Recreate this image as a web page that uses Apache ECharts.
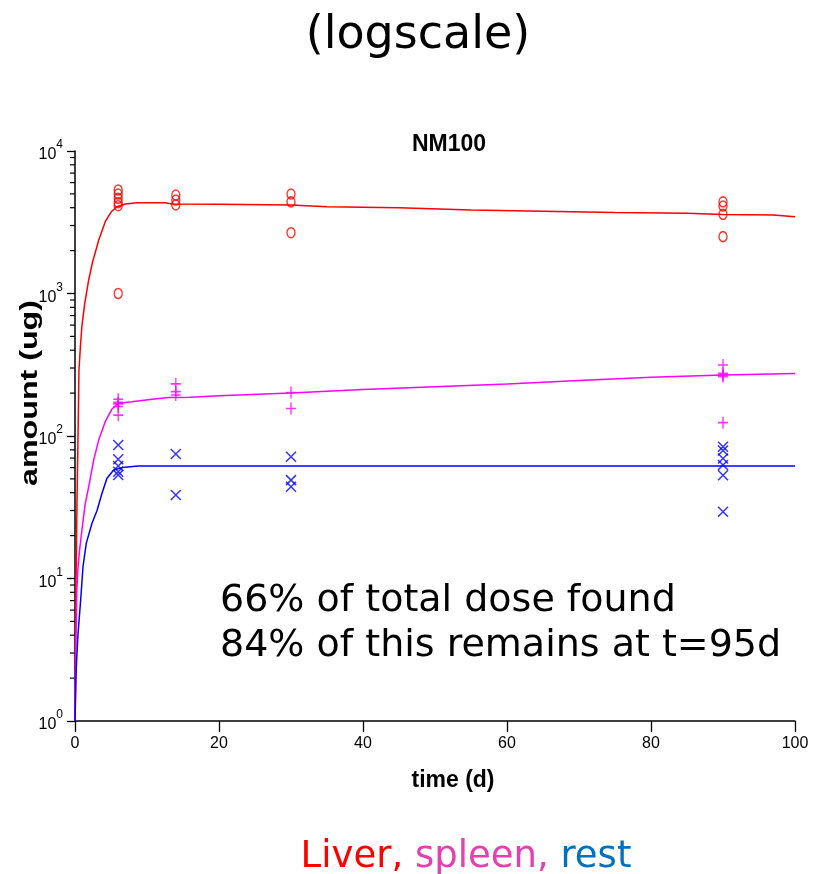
<!DOCTYPE html>
<html>
<head>
<meta charset="utf-8">
<script src="https://cdn.jsdelivr.net/npm/echarts@6.0.0/dist/echarts.min.js"></script>
<style>
  html, body { margin: 0; padding: 0; background: #fff; }
  #chart { width: 823px; height: 874px; }
</style>
</head>
<body>
<div id="chart"></div>
<script>
// 测量值 [时间(d), 量(ug)]
const liverObs = [[6, 5325], [6, 4990], [6, 4655], [6, 4340], [6, 4130], [6, 1000], [14, 4910], [14, 4530], [14, 4180], [30, 4990], [30, 4400], [30, 2670], [90, 4400], [90, 4110], [90, 3595], [90, 2505]];
const spleenObs = [[6, 181], [6, 172], [6, 168], [6, 161], [6, 140], [14, 232], [14, 205], [14, 194], [30, 202], [30, 156], [90, 315], [90, 275], [90, 268], [90, 261], [90, 124]];
const restObs = [[6, 86.5], [6, 68.6], [6, 61.5], [6, 56.2], [6, 53.2], [14, 74.8], [14, 38.5], [30, 71.6], [30, 49], [30, 44], [90, 84], [90, 79], [90, 69.5], [90, 62.6], [90, 53], [90, 29.4]];

// 拟合曲线
const liverFit = [[0, 1], [0.06, 3], [0.15, 10], [0.28, 35], [0.42, 100], [0.55, 290], [0.75, 424], [0.95, 585], [1.35, 850], [1.9, 1244], [2.45, 1670], [3.3, 2373], [4.2, 3190], [5.05, 3750], [5.8, 4065], [7, 4247], [8.6, 4337], [12.5, 4337], [13.5, 4250], [20, 4230], [30, 4180], [35, 4060], [45, 4000], [55, 3850], [65, 3780], [75, 3700], [85, 3655], [90, 3580], [97, 3556], [100, 3460]];
const spleenFit = [[0, 1], [0.1, 3], [0.25, 8], [0.42, 12], [0.65, 16], [0.97, 22], [1.4, 33], [1.9, 44], [2.6, 68], [3.3, 94], [4.2, 126], [5.1, 154], [6.1, 170], [7.9, 174], [10.7, 181], [13, 186], [16, 187], [20, 192], [30, 200], [40, 212], [50, 222], [60, 232], [70, 245], [80, 258], [90, 268], [100, 275]];
const restFit = [[0, 1], [0.18, 2.4], [0.42, 4.1], [0.79, 7.1], [1.11, 12.1], [1.57, 17.7], [2.36, 24.4], [3.06, 30], [3.75, 39.6], [4.44, 50.5], [5.37, 57.7], [6.53, 60], [8.8, 61.6], [100, 61.6]];

// 对数轴次刻度
const minorTicks = [];
[1, 10, 100, 1000].forEach(function (d) {
	for (let k = 2; k <= 9; k++) minorTicks.push(k * d);
});

const noteLines = ["66% of total dose found", "84% of this remains at t=95d"];

let myChart = echarts.init(document.getElementById("chart"));

const axisFont = "Liberation Sans";

const option = {
	animation: false,
	grid: {
		left: 75,
		right: 28,
		top: 151,
		bottom: 153,
	},
	xAxis: {
		type: "value",
		min: 0,
		max: 100,
		interval: 20,
		axisLine: { onZero: false, lineStyle: { color: "#000", width: 1.5 } },
		axisTick: { length: 11, lineStyle: { color: "#000", width: 1.3 } },
		axisLabel: { margin: 15, color: "#000", fontSize: 16, fontFamily: axisFont },
		splitLine: { show: false },
	},
	yAxis: {
		type: "log",
		logBase: 10,
		min: 1,
		max: 10000,
		axisLine: { show: true, onZero: false, lineStyle: { color: "#000", width: 1.5 } },
		axisTick: { show: true, length: 8, lineStyle: { color: "#000", width: 1.3 } },
		axisLabel: {
			margin: 12,
			showMinLabel: true,
			showMaxLabel: true,
			formatter: function (v) {
				return "{b|10}{s|" + Math.round(Math.log10(v)) + "}";
			},
			rich: {
				b: { fontSize: 16, fontFamily: axisFont, color: "#000", lineHeight: 24, verticalAlign: "bottom" },
				s: { fontSize: 12, fontFamily: axisFont, color: "#000", lineHeight: 24, verticalAlign: "top" },
			},
		},
		splitLine: { show: false },
	},
	graphic: [
		{
			type: "text",
			x: 418,
			y: 36,
			style: { text: "(logscale)", font: '46px "DejaVu Sans"', fill: "#000", align: "center", verticalAlign: "middle", textAlign: "center", textVerticalAlign: "middle" },
		},
		{
			type: "text",
			x: 449,
			y: 145,
			style: { text: "NM100", font: 'bold 23px "Liberation Sans"', fill: "#000", align: "center", verticalAlign: "middle", textAlign: "center", textVerticalAlign: "middle" },
		},
		{
			// 纵轴标题（原图中被纵向拉长）
			type: "text",
			x: 31,
			y: 393,
			rotation: Math.PI / 2,
			scaleX: 1.4,
			style: { text: "amount (ug)", font: 'bold 23px "Liberation Sans"', fill: "#000", align: "center", verticalAlign: "middle", textAlign: "center", textVerticalAlign: "middle" },
		},
		{
			type: "text",
			x: 453,
			y: 781,
			style: { text: "time (d)", font: 'bold 23px "Liberation Sans"', fill: "#000", align: "center", verticalAlign: "middle", textAlign: "center", textVerticalAlign: "middle" },
		},
		{
			type: "text",
			x: 220,
			y: 601,
			style: { text: noteLines[0], font: '38px "DejaVu Sans"', fill: "#000", align: "left", verticalAlign: "middle", textAlign: "left", textVerticalAlign: "middle" },
		},
		{
			type: "text",
			x: 220,
			y: 646,
			style: { text: noteLines[1], font: '38px "DejaVu Sans"', fill: "#000", align: "left", verticalAlign: "middle", textAlign: "left", textVerticalAlign: "middle" },
		},
		{
			type: "text",
			x: 466,
			y: 857,
			style: {
				text: "{a|Liver,} {b|spleen,} {c|rest}",
				font: '37px "DejaVu Sans"',
				align: "center",
				verticalAlign: "middle",
				textAlign: "center",
				textVerticalAlign: "middle",
				rich: {
					a: { fill: "#ff0000", font: '37px "DejaVu Sans"' },
					b: { fill: "#e83fae", font: '37px "DejaVu Sans"' },
					c: { fill: "#0070c0", font: '37px "DejaVu Sans"' },
				},
			},
		},
	],
	series: [
		{
			name: "minorTicks",
			type: "custom",
			silent: true,
			clip: false,
			data: minorTicks,
			renderItem: function (params, api) {
				const p = api.coord([0, api.value(0)]);
				return {
					type: "line",
					shape: { x1: p[0] - 5, y1: p[1], x2: p[0], y2: p[1] },
					style: { stroke: "#000", lineWidth: 1.2 },
				};
			},
			encode: { y: 0 },
		},
		{
			name: "liverFit",
			type: "line",
			data: liverFit,
			showSymbol: false,
			lineStyle: { color: "#ff0000", width: 1.5 },
		},
		{
			name: "spleenFit",
			type: "line",
			data: spleenFit,
			showSymbol: false,
			lineStyle: { color: "#ff00ff", width: 1.5 },
		},
		{
			name: "restFit",
			type: "line",
			data: restFit,
			showSymbol: false,
			lineStyle: { color: "#0000ff", width: 1.5 },
		},
		{
			name: "liver",
			type: "scatter",
			data: liverObs,
			symbol: "circle",
			symbolSize: [8, 10],
			itemStyle: { color: "rgba(0,0,0,0)", borderColor: "#ff0000", borderWidth: 1.5 },
		},
		{
			name: "spleen",
			type: "scatter",
			data: spleenObs,
			symbol: "path://M0,5L10,5M5,0L5,10",
			symbolSize: [10, 12],
			itemStyle: { color: "rgba(0,0,0,0)", borderColor: "#ff00ff", borderWidth: 1.5 },
		},
		{
			name: "rest",
			type: "scatter",
			data: restObs,
			symbol: "path://M0,0L10,10M10,0L0,10",
			symbolSize: [10, 10],
			itemStyle: { color: "rgba(0,0,0,0)", borderColor: "#0000ff", borderWidth: 1.5 },
		},
	],
};

myChart.setOption(option);
</script>
</body>
</html>
